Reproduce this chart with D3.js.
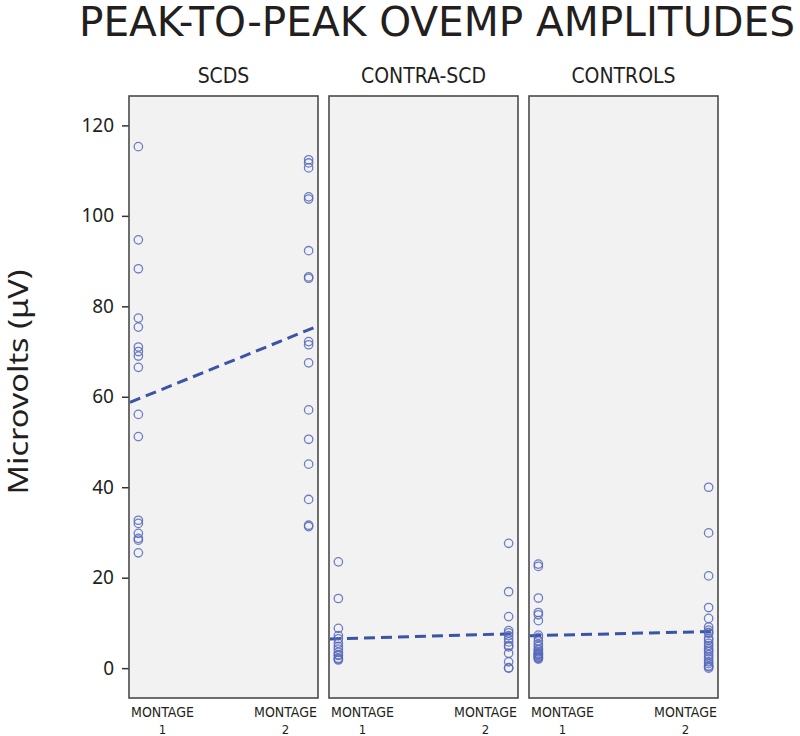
<!DOCTYPE html>
<html>
<head>
<meta charset="utf-8">
<script src="https://cdn.jsdelivr.net/npm/d3@7"></script>
<style>
  body { margin: 0; background: #fff; }
</style>
</head>
<body>
<div id="canvas"></div>
<script>
"use strict"

/* Data: peak-to-peak amplitudes (microvolts) */
let groups = ["SCDS", "CONTRA-SCD", "CONTROLS"];
let montages = ["1", "2"];

let scdsMontage1 = [115.3, 94.7, 88.3, 77.4, 75.4, 71.0, 70.0, 69.0, 66.5, 56.1, 51.2,
    32.7, 32.0, 29.8, 28.7, 28.3, 25.5];
let scdsMontage2 = [112.4, 111.7, 110.6, 104.2, 103.7, 92.3, 86.5, 86.2, 72.2, 71.5, 67.5,
    57.1, 50.6, 45.1, 37.3, 31.6, 31.3];

let contraMontage1 = [23.5, 15.4, 8.8, 7.2, 6.5, 5.5, 4.8, 4.2, 3.5, 3.0, 2.8, 2.2, 2.0, 1.8];
let contraMontage2 = [27.6, 16.9, 11.4, 8.3, 7.8, 7.2, 6.5, 5.8, 5.0, 4.7, 3.3, 1.4, 0.1, 0.0];

let controlsMontage1 = [23.0, 22.5, 15.5, 12.3, 11.8, 10.5, 7.3, 6.8, 6.0, 5.3, 4.8, 4.2,
    4.0, 3.6, 3.3, 3.1, 3.0, 2.8, 2.5, 2.4, 2.2, 2.0];
let controlsMontage2 = [40.0, 29.9, 20.4, 13.4, 11.0, 9.1, 8.4, 7.9, 7.7, 6.6, 6.2, 5.5,
    5.0, 4.4, 4.0, 3.6, 3.0, 2.5, 2.0, 1.4, 1.0, 0.5, 0.3, 0.0];

let yTicks = [0, 20, 40, 60, 80, 100, 120];

let titleText = "PEAK-TO-PEAK OVEMP AMPLITUDES";
let yLabelText = "Microvolts (\u03BCV)";
let xLabelText = "MONTAGE";

/* Configuration variables: drawing */
let svgWidth = 800;
let svgHeight = 736;
let plotTop = 96;
let plotBottom = 698;
let narrowFont = "'Liberation Sans Narrow', 'DejaVu Sans Condensed', 'Roboto Condensed', 'Open Sans', sans-serif";
let plainFont = "'Noto Sans', 'Open Sans', sans-serif";
let pointColor = "#5769bb";
let lineColor = "#3a54a6";

let svg = d3.select("#canvas")
    .append("svg")
    .attr("width", svgWidth)
    .attr("height", svgHeight);

/* one record per group, with values for each montage */
let panels = [
    { name: groups[0], values: { "1": scdsMontage1, "2": scdsMontage2 } },
    { name: groups[1], values: { "1": contraMontage1, "2": contraMontage2 } },
    { name: groups[2], values: { "1": controlsMontage1, "2": controlsMontage2 } }
];

/* scales */
let panelScale = d3.scaleBand()
    .domain(groups)
    .range([123.5, 723.5])
    .paddingInner(0.055)
    .paddingOuter(0.0275);

let montageScale = d3.scalePoint()
    .domain(montages)
    .range([0, panelScale.bandwidth()])
    .padding(0.055);

let yScale = d3.scaleLinear()
    .domain([-6.6, 126.5])
    .range([plotBottom, plotTop]);

/* title */
svg.append("text")
    .attr("x", 79)
    .attr("y", 36)
    .attr("font-family", narrowFont)
    .attr("font-size", 40)
    .attr("fill", "#231f20")
    .attr("textLength", 716)
    .attr("lengthAdjust", "spacingAndGlyphs")
    .text(titleText);

/* y axis label */
svg.append("text")
    .attr("transform", "translate(28,382) rotate(-90)")
    .attr("text-anchor", "middle")
    .attr("font-family", plainFont)
    .attr("font-size", 27)
    .attr("fill", "#231f20")
    .attr("textLength", 225)
    .attr("lengthAdjust", "spacingAndGlyphs")
    .text(yLabelText);

/* y axis on the first panel */
let yAxis = svg.append("g")
    .attr("transform", "translate(" + panelScale(groups[0]) + ",0)")
    .call(d3.axisLeft(yScale).tickValues(yTicks).tickSize(7).tickPadding(8));

yAxis.select(".domain").remove();
yAxis.selectAll("line").attr("stroke", "#333").attr("stroke-width", 1.5);
yAxis.selectAll("text")
    .attr("font-family", plainFont)
    .attr("font-size", 19)
    .attr("fill", "#231f20");

/* panels */
let panelGroups = svg.selectAll("g.panel")
    .data(panels)
    .join("g")
    .attr("class", "panel")
    .attr("transform", function (d) {
        return "translate(" + panelScale(d.name) + ",0)";
    });

panelGroups.append("rect")
    .attr("x", 0)
    .attr("y", plotTop)
    .attr("width", panelScale.bandwidth())
    .attr("height", plotBottom - plotTop)
    .attr("fill", "#f2f2f2")
    .attr("stroke", "#4a4a4a")
    .attr("stroke-width", 1.6);

panelGroups.append("text")
    .attr("x", panelScale.bandwidth() / 2)
    .attr("y", 83)
    .attr("text-anchor", "middle")
    .attr("font-family", narrowFont)
    .attr("font-size", 21)
    .attr("fill", "#231f20")
    .text(function (d) { return d.name; });

/* fitted line through the montage means, extended to panel edges */
let fitLine = d3.line()
    .x(function (p) { return p.x; })
    .y(function (p) { return yScale(p.v); });

panelGroups.append("path")
    .attr("d", function (d) {
        let x1 = montageScale("1");
        let x2 = montageScale("2");
        let m1 = d3.mean(d.values["1"]);
        let m2 = d3.mean(d.values["2"]);
        let slope = (m2 - m1) / (x2 - x1);
        let w = panelScale.bandwidth();
        return fitLine([
            { x: 1, v: m1 + slope * (1 - x1) },
            { x: w - 1, v: m1 + slope * (w - 1 - x1) }
        ]);
    })
    .attr("fill", "none")
    .attr("stroke", lineColor)
    .attr("stroke-width", 3)
    .attr("stroke-dasharray", "11,6");

/* points */
panelGroups.each(function (d) {
    let points = [];
    montages.forEach(function (m) {
        d.values[m].forEach(function (v) {
            points.push({ montage: m, value: v });
        });
    });
    d3.select(this).selectAll("circle")
        .data(points)
        .join("circle")
        .attr("cx", function (p) { return montageScale(p.montage); })
        .attr("cy", function (p) { return yScale(p.value); })
        .attr("r", 4.2)
        .attr("fill", "none")
        .attr("stroke", pointColor)
        .attr("stroke-width", 1.3)
        .attr("stroke-opacity", 0.85);
});

/* montage labels under each panel, kept inside the panel width */
panelGroups.each(function (d) {
    let g = d3.select(this);
    let w = panelScale.bandwidth();
    let labelWidth = 63;
    montages.forEach(function (m) {
        let half = labelWidth / 2;
        let cx = Math.max(half + 2, Math.min(w - half - 1, montageScale(m)));
        g.append("text")
            .attr("x", cx)
            .attr("y", 717)
            .attr("text-anchor", "middle")
            .attr("font-family", narrowFont)
            .attr("font-size", 14)
            .attr("fill", "#231f20")
            .attr("textLength", labelWidth)
            .attr("lengthAdjust", "spacingAndGlyphs")
            .text(xLabelText);
        g.append("text")
            .attr("x", cx)
            .attr("y", 734)
            .attr("text-anchor", "middle")
            .attr("font-family", narrowFont)
            .attr("font-size", 13)
            .attr("fill", "#231f20")
            .text(m);
    });
});
</script>
</body>
</html>
